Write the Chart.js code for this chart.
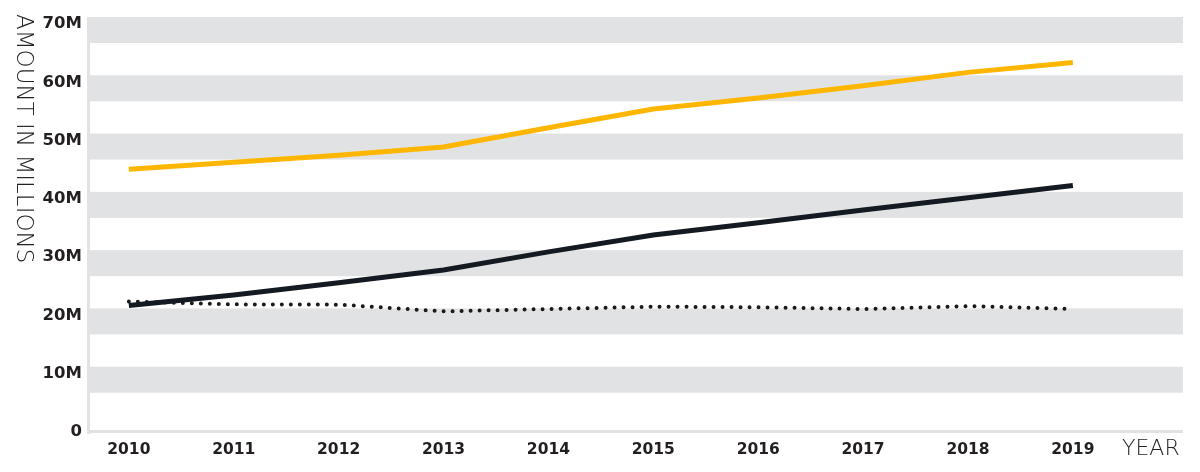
<!DOCTYPE html>
<html>
<head>
<meta charset="utf-8">
<script src="https://cdn.jsdelivr.net/npm/chart.js@4"></script>
<style>
  html, body { margin: 0; padding: 0; background: #fff; }
  #wrap { width: 1200px; height: 472px; position: relative; }
</style>
</head>
<body>
<div id="wrap"><canvas id="Linechart"></canvas></div>
<script>

// values, in millions
const years = [2010, 2011, 2012, 2013, 2014, 2015, 2016, 2017, 2018, 2019];
const yellowSeries = [45.1, 46.3, 47.5, 48.9, 52.2, 55.4, 57.3, 59.4, 61.7, 63.4];
const blackSeries = [21.7, 23.5, 25.6, 27.8, 30.9, 33.8, 35.9, 38.1, 40.2, 42.3];
const dottedSeries = [22.4, 21.9, 21.85, 20.7, 21.1, 21.5, 21.4, 21.1, 21.6, 21.1];
const yTicks = [0, 10, 20, 30, 40, 50, 60, 70];

const axisGray = '#e1e2e4';
const textDark = '#231f20';

function points(values) {
  return years.map((y, i) => ({ x: y, y: values[i] }));
}

// gray stripes + axis lines + the two free-standing titles
const decor = {
  id: 'decor',
  beforeDraw(chart) {
    const ctx = chart.ctx;
    const area = chart.chartArea;
    const ys = chart.scales.y;
    ctx.save();
    ctx.fillStyle = axisGray;
    yTicks.forEach(v => {
      if (v === 0) return;
      const py = ys.getPixelForValue(v);
      ctx.fillRect(area.left, py - 7, area.right - area.left, 26);
    });
    // axis lines
    ctx.fillRect(area.left - 2, area.top - 7, 3, area.bottom - area.top + 9);
    ctx.fillRect(area.left - 2, area.bottom - 2, area.right - area.left + 2, 3);
    ctx.restore();
  },
  afterDraw(chart) {
    const ctx = chart.ctx;
    ctx.save();
    ctx.fillStyle = '#222';
    ctx.font = '300 22px "DejaVu Sans"';
    ctx.textBaseline = 'middle';
    ctx.textAlign = 'left';
    ctx.fillText('YEAR', 1122, 449);
    ctx.translate(23, 14);
    ctx.rotate(Math.PI / 2);
    ctx.font = '300 23px "DejaVu Sans"';
    ctx.fillText('AMOUNT IN MILLIONS', 0, 0);
    ctx.restore();
  }
};

var Lineconfig = {
  type: 'line',
  data: {
    datasets: [{
      label: 'yellow',
      data: points(yellowSeries),
      borderColor: '#ffb600',
      borderWidth: 5,
      pointRadius: 0,
      tension: 0
    }, {
      label: 'black',
      data: points(blackSeries),
      borderColor: '#141a21',
      borderWidth: 5,
      pointRadius: 0,
      tension: 0
    }, {
      label: 'dotted',
      data: points(dottedSeries),
      borderColor: '#1a1a1a',
      borderWidth: 4,
      borderDash: [0, 9],
      borderCapStyle: 'round',
      pointRadius: 0,
      tension: 0
    }]
  },
  options: {
    responsive: false,
    animation: false,
    layout: { padding: { top: 24, right: 17, bottom: 0, left: 0 } },
    plugins: {
      legend: { display: false },
      tooltip: { enabled: false }
    },
    scales: {
      x: {
        type: 'linear',
        min: 2009.62,
        max: 2020.05,
        afterBuildTicks: s => { s.ticks = years.map(v => ({ value: v })); },
        afterFit: s => { s.height = 40; },
        grid: { display: false, drawTicks: false },
        border: { display: false },
        ticks: {
          autoSkip: false,
          maxRotation: 0,
          padding: 9,
          color: textDark,
          font: { family: 'DejaVu Sans', weight: 'bold', size: 15.5 },
          callback: v => String(v)
        }
      },
      y: {
        min: 0,
        max: 70,
        afterBuildTicks: s => { s.ticks = yTicks.map(v => ({ value: v })); },
        afterFit: s => { s.width = 89; },
        grid: { display: false, drawTicks: false },
        border: { display: false },
        ticks: {
          padding: 7,
          color: textDark,
          font: { family: 'DejaVu Sans', weight: 'bold', size: 16.5 },
          callback: v => v === 0 ? '0' : v + 'M'
        }
      }
    }
  },
  plugins: [decor]
};

var canvas = document.getElementById('Linechart');
canvas.width = 1200;
canvas.height = 472;
var Linechart = new Chart(canvas, Lineconfig);
</script>
</body>
</html>
